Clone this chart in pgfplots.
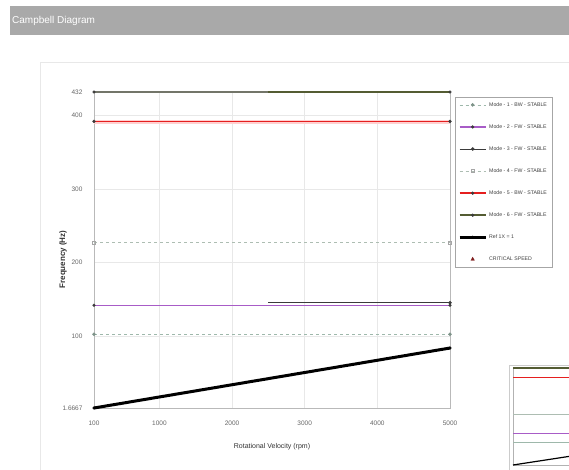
\documentclass[border=0pt]{standalone}
\usepackage{fontspec}
\setmainfont{Liberation Sans}
\usepackage{pgfplots}
\pgfplotsset{compat=1.18}

\definecolor{banner}{rgb}{0.663,0.663,0.663}
\definecolor{cmodeA}{rgb}{0.62,0.72,0.67}
\definecolor{cmodeB}{rgb}{0.66,0.36,0.78}
\definecolor{cmodeC}{rgb}{0.23,0.23,0.23}
\definecolor{cmodeD}{rgb}{0.68,0.74,0.70}
\definecolor{cmodeE}{rgb}{0.90,0.12,0.12}
\definecolor{cmodeF}{rgb}{0.33,0.36,0.20}
\definecolor{cmodeFleft}{rgb}{0.45,0.46,0.41}
\definecolor{critred}{rgb}{0.50,0.12,0.12}
\definecolor{ticktext}{rgb}{0.40,0.40,0.40}

\begin{document}
\begin{tikzpicture}
\path[use as bounding box] (0pt,0pt) rectangle (569pt,470pt);
\clip (0pt,0pt) rectangle (569pt,470pt);
\fill[white] (0pt,0pt) rectangle (569pt,470pt);

% title banner
\fill[banner] (10pt,435pt) rectangle (569pt,464pt);
\node[anchor=west,inner sep=0pt,text=white,font=\fontsize{10}{12}\selectfont] at (12pt,449.5pt) {Campbell Diagram};

% panel frame
\draw[gray!18] (40pt,-5pt) -- (40pt,408pt) -- (575pt,408pt);

\begin{axis}[
  at={(94pt,62pt)}, anchor=south west,
  width=356pt, height=316pt, scale only axis,
  xmin=100, xmax=5000, ymin=1.6667, ymax=432,
  clip=false,
  xtick={100,1000,2000,3000,4000,5000},
  xticklabels={100,1000,2000,3000,4000,5000},
  ytick={1.6667,100,200,300,400,432},
  yticklabels={1.6667,100,200,300,400,432},
  major tick length=0pt,
  grid=major,
  major grid style={gray!18},
  axis line style={gray!55},
  tick label style={font=\fontsize{6.5}{7}\selectfont, text=ticktext},
  xticklabel style={yshift=-9pt},
  yticklabel style={xshift=-8pt},
  xlabel={Rotational Velocity (rpm)},
  ylabel={\bfseries Frequency (Hz)},
  xlabel style={font=\fontsize{7}{8}\selectfont, text=black!80, at={(axis description cs:0.5,-0.123)}, anchor=center},
  ylabel style={font=\fontsize{8}{9}\selectfont, text=black!80, at={(axis description cs:-0.087,0.47)}, anchor=center},
  legend cell align=left,
  legend style={at={(1.014,0.984)}, anchor=north west, draw=gray!70,
    font=\fontsize{5.2}{6}\selectfont, row sep=12.8pt, inner sep=3pt,
    text=black!75},
  legend image code/.code={\draw[mark repeat=2,mark phase=2,#1] plot coordinates {(0pt,0pt) (13pt,0pt) (26pt,0pt)};},
  every axis plot/.append style={mark size=1.4pt},
]
\addplot[color=cmodeA, dashed, line width=0.7pt, mark=*, mark options={solid, fill=cmodeA!80!black, draw=cmodeA!80!black}] coordinates {(100,102) (5000,102)};
\addlegendentry{Mode - 1 - BW - STABLE}
\addplot[color=cmodeB, line width=1.1pt, mark=*, mark options={line width=0.4pt, fill=cmodeC, draw=cmodeC}] coordinates {(100,141.5) (5000,141.5)};
\addlegendentry{Mode - 2 - FW - STABLE}
\addplot[color=cmodeC, line width=0.7pt, mark=*, mark indices={2}, mark options={fill=cmodeC}] coordinates {(2500,145) (5000,145)};
\addlegendentry{Mode - 3 - FW - STABLE}
\addplot[color=cmodeD, dashed, line width=0.7pt, mark=square, mark options={solid, draw=gray!70, fill=white}] coordinates {(100,227) (5000,227)};
\addlegendentry{Mode - 4 - FW - STABLE}
\addplot[color=red!18, line width=3.5pt, forget plot] coordinates {(100,391) (5000,391)};
\addplot[color=cmodeE, line width=1.7pt, mark=*, mark options={line width=0.4pt, fill=cmodeC, draw=cmodeC}] coordinates {(100,392) (5000,392)};
\addlegendentry{Mode - 5 - BW - STABLE}
\addplot[color=cmodeF, line width=2pt, mark=*, mark options={line width=0.4pt, fill=cmodeC, draw=cmodeC}] coordinates {(100,432) (5000,432)};
\addlegendentry{Mode - 6 - FW - STABLE}
\addplot[color=cmodeFleft, line width=2pt, forget plot] coordinates {(100,432) (2500,432)};
\addplot[color=black, line width=3pt, mark=*, mark options={line width=0.4pt, fill=black}] coordinates {(100,1.6667) (5000,83.333)};
\addlegendentry{Ref 1X = 1}
\addlegendimage{only marks, mark=triangle*, mark size=2pt, color=critred}
\addlegendentry{CRITICAL SPEED}
\end{axis}

% thumbnail of the chart, cut off by the page edge
\draw[gray!40] (509pt,105pt) rectangle (600pt,-10pt);
\begin{axis}[
  at={(513pt,102pt)}, anchor=north west,
  width=120pt, height=97pt, scale only axis,
  xmin=100, xmax=5000, ymin=1.6667, ymax=432,
  ticks=none, axis line style={gray!60},
  grid=none, clip=false,
]
\addplot[color=cmodeA, thin] coordinates {(100,102) (5000,102)};
\addplot[color=cmodeB, thin] coordinates {(100,141.5) (5000,141.5)};
\addplot[color=cmodeC, thin] coordinates {(2500,145) (5000,145)};
\addplot[color=cmodeD, thin] coordinates {(100,227) (5000,227)};
\addplot[color=cmodeE, line width=1pt] coordinates {(100,392) (5000,392)};
\addplot[color=cmodeF, line width=1.2pt] coordinates {(100,432) (5000,432)};
\addplot[color=black, line width=1.2pt] coordinates {(100,1.6667) (5000,83.333)};
\end{axis}
\end{tikzpicture}
\end{document}
